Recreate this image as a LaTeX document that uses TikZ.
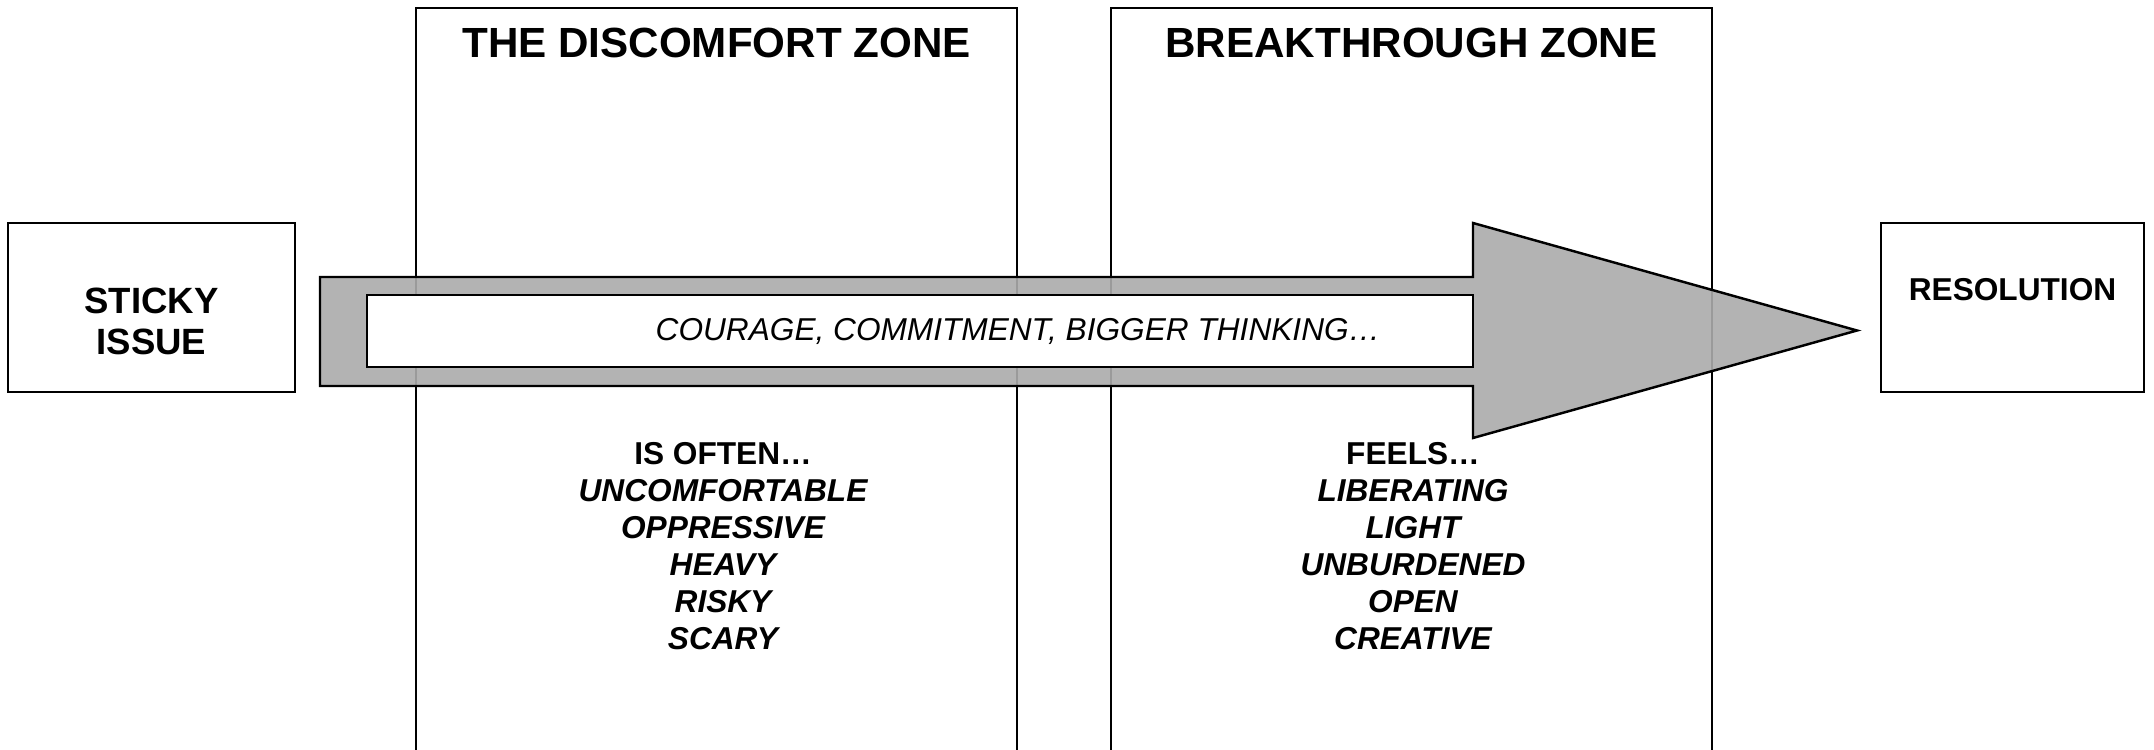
\documentclass[tikz,border=0pt]{standalone}
\usepackage{fontspec}
\setmainfont{Liberation Sans}
\usetikzlibrary{positioning}
\definecolor{arrowgrey}{HTML}{ABABAB}

\begin{document}
\begin{tikzpicture}[x=0.1mm, y=-0.1mm, line width=0.7pt,
    box/.style={draw, rectangle, inner sep=0pt},
    zonetitle/.style={font=\bfseries\fontsize{12}{14}\selectfont},
    zonelist/.style={align=center, font=\bfseries\fontsize{9}{10.5}\selectfont}]
      \useasboundingbox (0,0) rectangle (2154,750);
      \clip (0,0) rectangle (2154,750);

      % the two zones, running off the bottom
      \node[box, anchor=north, minimum width=60.1mm, minimum height=80mm] (dzone) at (716.5,7) {};
      \node[box, anchor=north, minimum width=60.1mm, minimum height=80mm] (bzone) at (1411.5,7) {};
      \node[zonetitle] (dtitle) at ([yshift=-3.6mm]dzone.north) {THE DISCOMFORT ZONE};
      \node[zonetitle] (btitle) at ([yshift=-3.6mm]bzone.north) {BREAKTHROUGH ZONE};

      % start and end
      \node[box, minimum width=28.7mm, minimum height=16.9mm] (sticky) at (151.5,307.5) {};
      \node[align=center, font=\bfseries\fontsize{10.4}{11.8}\selectfont] (stickylbl)
        at ([yshift=-1.4mm]sticky.center) {STICKY\\ISSUE};
      \node[box, minimum width=26.3mm, minimum height=16.9mm] (resol) at (2012.5,307.5) {};
      \node[font=\bfseries\fontsize{9}{11}\selectfont] (resollbl) at ([yshift=1.75mm]resol.center) {RESOLUTION};

      % the big arrow
      \draw[fill=arrowgrey, fill opacity=0.9] (320,277) -- (1473,277) -- (1473,223) -- (1857,330.5)
        -- (1473,438) -- (1473,386) -- (320,386) -- cycle;
      \node[box, fill=white, minimum width=110.6mm, minimum height=7.2mm] (channel) at (920,331) {};
      \node[font=\itshape\fontsize{9}{11}\selectfont] (courage) at (1018,331)
        {COURAGE, COMMITMENT, BIGGER THINKING…};

      % what each zone is like
      \node[zonelist] (dlist) at (723,546)
        {IS OFTEN…\\\itshape UNCOMFORTABLE\\\itshape OPPRESSIVE\\\itshape HEAVY\\\itshape RISKY\\\itshape SCARY};
      \node[zonelist] (blist) at (1413,546)
        {FEELS…\\\itshape LIBERATING\\\itshape LIGHT\\\itshape UNBURDENED\\\itshape OPEN\\\itshape CREATIVE};
    \end{tikzpicture}
\end{document}
